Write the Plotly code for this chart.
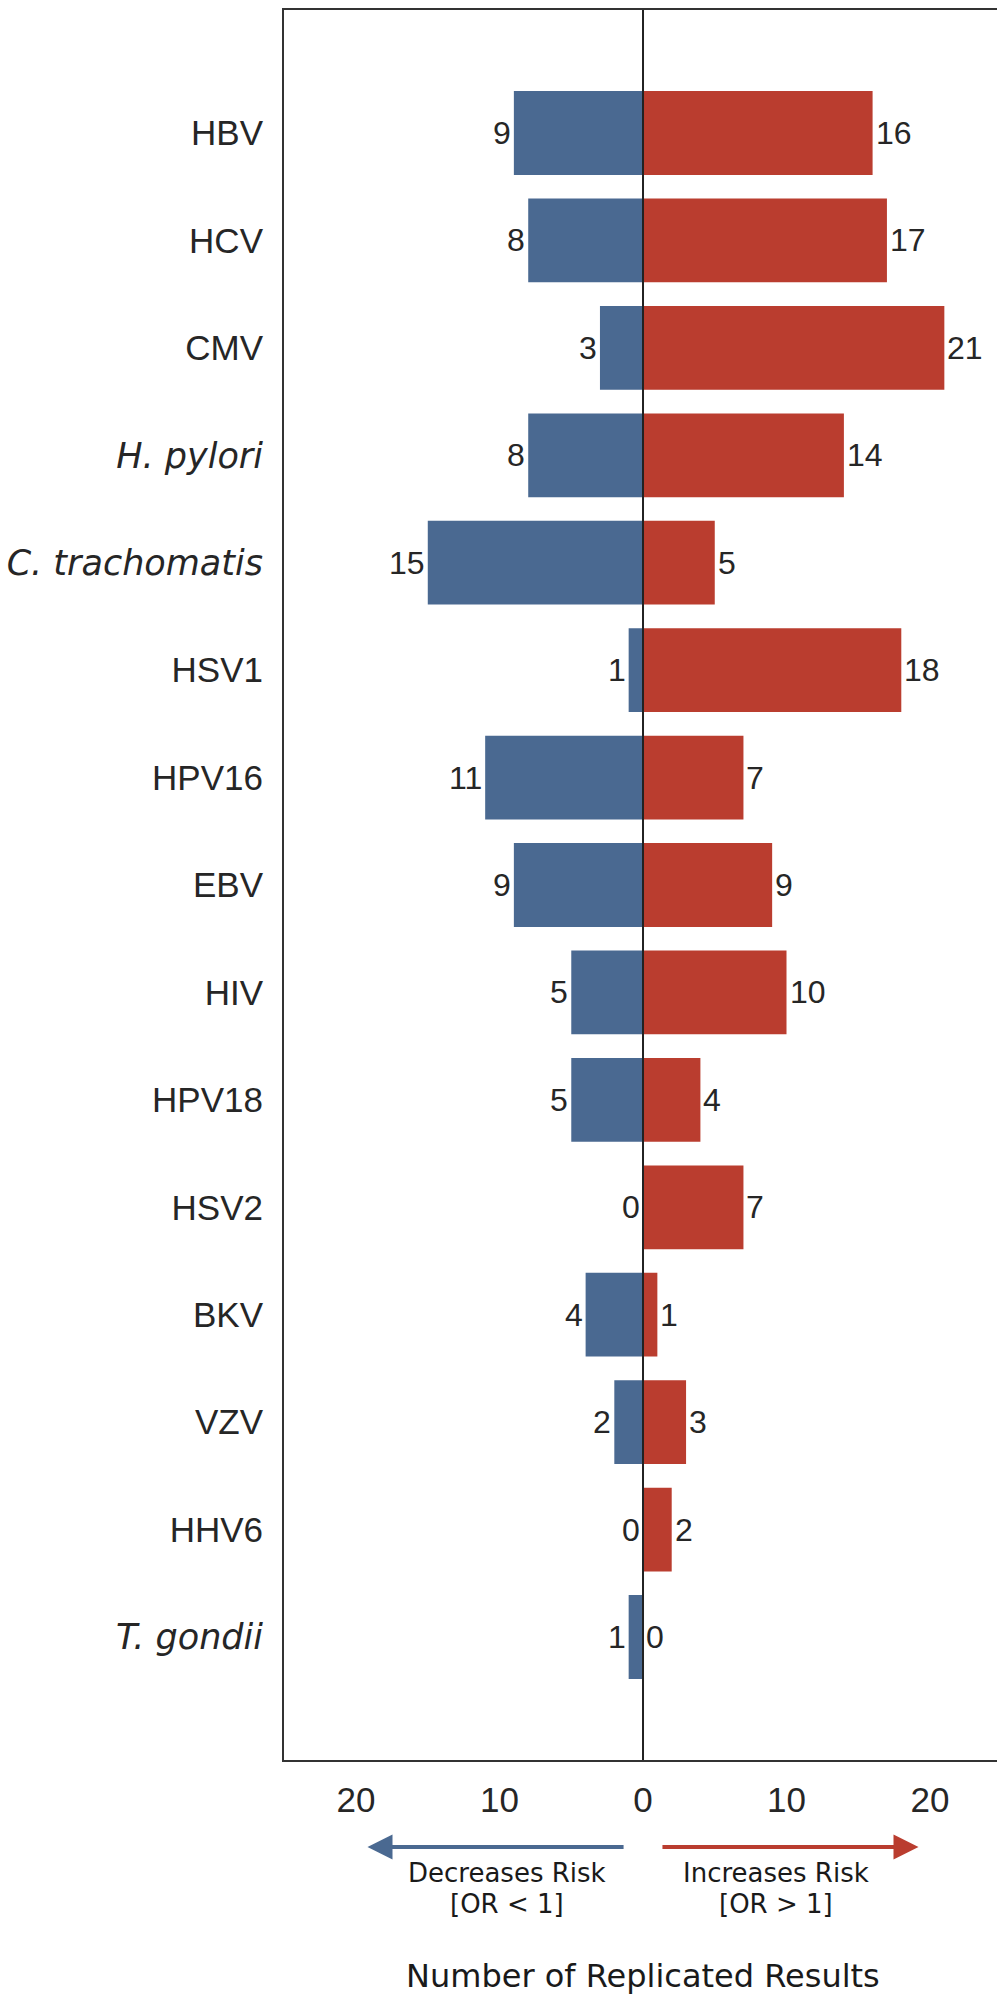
import plotly.graph_objects as go

categories = ["HBV", "HCV", "CMV", "H. pylori", "C. trachomatis", "HSV1", "HPV16",
              "EBV", "HIV", "HPV18", "HSV2", "BKV", "VZV", "HHV6", "T. gondii"]
italic_names = ["H. pylori", "C. trachomatis", "T. gondii"]
decreases = [9, 8, 3, 8, 15, 1, 11, 9, 5, 5, 0, 4, 2, 0, 1]
increases = [16, 17, 21, 14, 5, 18, 7, 9, 10, 4, 7, 1, 3, 2, 0]
x_tickvals = [-20, -10, 0, 10, 20]
x_ticktext = ["20", "10", "0", "10", "20"]

BLUE = "#4a6991"
RED = "#ba3d2f"
TXT = "#262626"
SANS = "Liberation Sans, Arial, sans-serif"
DEJA = "DejaVu Sans, sans-serif"

idx = list(range(len(categories)))

def tick_label(name):
    if name in italic_names:
        return '<span style="font-family:DejaVu Sans"><i>%s</i></span>' % name
    return name

fig = go.Figure()
fig.add_trace(go.Bar(
    y=idx, x=[-v for v in decreases], orientation="h", width=0.78,
    marker=dict(color=BLUE, line=dict(width=0)), showlegend=False, hoverinfo="skip"))
fig.add_trace(go.Bar(
    y=idx, x=increases, orientation="h", width=0.78,
    marker=dict(color=RED, line=dict(width=0)), showlegend=False, hoverinfo="skip"))

annotations = []
for i, (d, u) in enumerate(zip(decreases, increases)):
    annotations.append(dict(x=-d, y=i, xref="x", yref="y", text=str(d), showarrow=False,
                            xanchor="right", yanchor="middle", xshift=-1,
                            font=dict(family=SANS, size=32, color=TXT)))
    annotations.append(dict(x=u, y=i, xref="x", yref="y", text=str(u), showarrow=False,
                            xanchor="left", yanchor="middle", xshift=1,
                            font=dict(family=SANS, size=32, color=TXT)))

# direction arrows
annotations.append(dict(x=-19.2, y=-0.0497, xref="x", yref="paper", ax=-1.25, ay=0,
                        axref="x", ayref="pixel", text="", showarrow=True, arrowhead=2,
                        arrowwidth=4, arrowsize=1.25, arrowcolor=BLUE, standoff=0, startstandoff=0))
annotations.append(dict(x=19.2, y=-0.0497, xref="x", yref="paper", ax=1.25, ay=0,
                        axref="x", ayref="pixel", text="", showarrow=True, arrowhead=2,
                        arrowwidth=4, arrowsize=1.25, arrowcolor=RED, standoff=0, startstandoff=0))
for xc, l1, l2 in [(-9.45, "Decreases Risk", "[OR &lt; 1]"), (9.3, "Increases Risk", "[OR &gt; 1]")]:
    annotations.append(dict(x=xc, y=-0.0646, xref="x", yref="paper", text=l1, showarrow=False,
                            xanchor="center", yanchor="middle",
                            font=dict(family=DEJA, size=26, color="#1a1a1a")))
    annotations.append(dict(x=xc, y=-0.0823, xref="x", yref="paper", text=l2, showarrow=False,
                            xanchor="center", yanchor="middle",
                            font=dict(family=DEJA, size=26, color="#1a1a1a")))
annotations.append(dict(x=0, y=-0.1234, xref="x", yref="paper", text="Number of Replicated Results",
                        showarrow=False, xanchor="center", yanchor="middle",
                        font=dict(family=DEJA, size=32, color="#1a1a1a")))

fig.update_layout(
    width=997, height=1995,
    margin=dict(l=284, r=0, t=10, b=235, pad=0),
    paper_bgcolor="white", plot_bgcolor="white",
    barmode="overlay",
    annotations=annotations,
    shapes=[dict(type="line", xref="x", yref="paper", x0=0, x1=0, y0=0, y1=1,
                 line=dict(color="#222222", width=2), layer="above")],
    xaxis=dict(range=[-25.02, 24.67], tickvals=x_tickvals, ticktext=x_ticktext,
               showgrid=False, zeroline=False, showline=True, mirror=True,
               linecolor="#333333", linewidth=2, ticks="outside", ticklen=8,
               tickcolor="rgba(0,0,0,0)", tickfont=dict(family=SANS, size=35, color=TXT)),
    yaxis=dict(range=[15.145, -1.145], tickvals=idx,
               ticktext=[tick_label(c) for c in categories],
               showgrid=False, zeroline=False, showline=True, mirror=False,
               linecolor="#333333", linewidth=2, ticks="outside", ticklen=12,
               tickcolor="rgba(0,0,0,0)", tickfont=dict(family=SANS, size=35, color=TXT)),
)

fig.write_html("out.html", config={"displayModeBar": False},
               post_script="document.body.style.margin='0';")
